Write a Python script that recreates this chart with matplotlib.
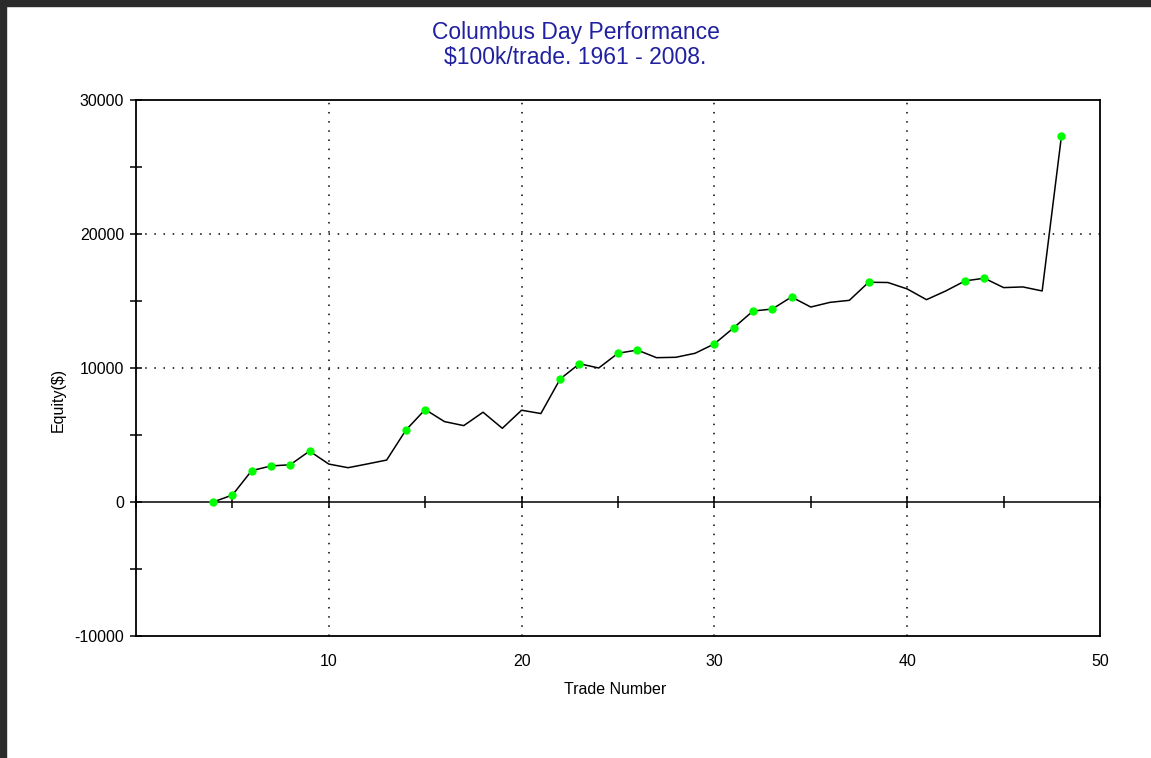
import matplotlib.pyplot as plt
from matplotlib.patches import Rectangle
from matplotlib.ticker import MultipleLocator

plt.rcParams['font.family'] = ['Liberation Sans', 'DejaVu Sans']
plt.rcParams['axes.unicode_minus'] = False

trades = list(range(4, 49))
equity = [0, 520, 2340, 2690, 2780, 3800, 2830, 2560, 2840, 3130,
          5370, 6900, 6000, 5700, 6700, 5500, 6850, 6600, 9180, 10320,
          10000, 11100, 11340, 10770, 10800, 11100, 11800, 13000, 14250, 14400,
          15300, 14550, 14900, 15050, 16400, 16380, 15900, 15100, 15750, 16500,
          16700, 16000, 16050, 15750, 27300]
# trades that set a new equity high (green dots)
high_trades = [4, 5, 6, 7, 8, 9, 14, 15, 22, 23, 25, 26, 30, 31, 32, 33, 34, 38, 43, 44, 48]
high_equity = [equity[trades.index(t)] for t in high_trades]

x_min, x_max = 0, 50
y_min, y_max = -10000, 30000

fig = plt.figure(figsize=(11.51, 7.58), dpi=100)
ax = fig.add_axes([136 / 1151, 1 - 636 / 758, 964 / 1151, 536 / 758])

ax.plot(trades, equity, color='black', lw=1.1, zorder=3)
ax.plot(high_trades, high_equity, 'o', color='#00ff00', ms=6, mec='none', zorder=4)

ax.set_xlim(x_min, x_max)
ax.set_ylim(y_min, y_max)

# dotted grid
for xv in [10, 20, 30, 40]:
    ax.axvline(xv, color='black', lw=1.1, ls=(0, (1, 5)), zorder=1)
for yv in [10000, 20000]:
    ax.axhline(yv, color='black', lw=1.1, ls=(0, (1, 5)), zorder=1)

# x labels at bottom, no ticks there
ax.set_xticks([10, 20, 30, 40, 50])
ax.tick_params(axis='x', length=0, pad=13, labelsize=11.5)

# zero line carrying the x ticks
zero_loc = (0 - y_min) / (y_max - y_min)
sec = ax.secondary_xaxis(zero_loc)
sec.xaxis.set_major_locator(MultipleLocator(5))
sec.tick_params(axis='x', direction='inout', length=9, width=1.1, labelbottom=False)
sec.spines['bottom'].set_linewidth(1.1)

ax.yaxis.set_major_locator(MultipleLocator(10000))
ax.yaxis.set_minor_locator(MultipleLocator(5000))
ax.tick_params(axis='y', which='both', direction='inout', length=9, width=1.1, pad=4, labelsize=11.5)

for sp in ax.spines.values():
    sp.set_linewidth(1.3)

fig.text(0.5, 1 - 33 / 758, 'Columbus Day Performance', ha='center', va='center',
         fontsize=16.5, color='#2020a0')
fig.text(0.5, 1 - 58 / 758, '$100k/trade. 1961 - 2008.', ha='center', va='center',
         fontsize=16.5, color='#2020a0')
fig.text(615 / 1151, 1 - 689 / 758, 'Trade Number', ha='center', va='center', fontsize=11.5)
fig.text(58 / 1151, 1 - 400 / 758, 'Equity($)', ha='center', va='center', rotation=90, fontsize=11.5)

# dark window border on top and left
fig.add_artist(Rectangle((0, 1 - 6 / 758), 1, 6 / 758, transform=fig.transFigure, color='#2b2b2b'))
fig.add_artist(Rectangle((0, 0), 6 / 1151, 1, transform=fig.transFigure, color='#2b2b2b'))

fig.savefig('out.png', dpi=100)
